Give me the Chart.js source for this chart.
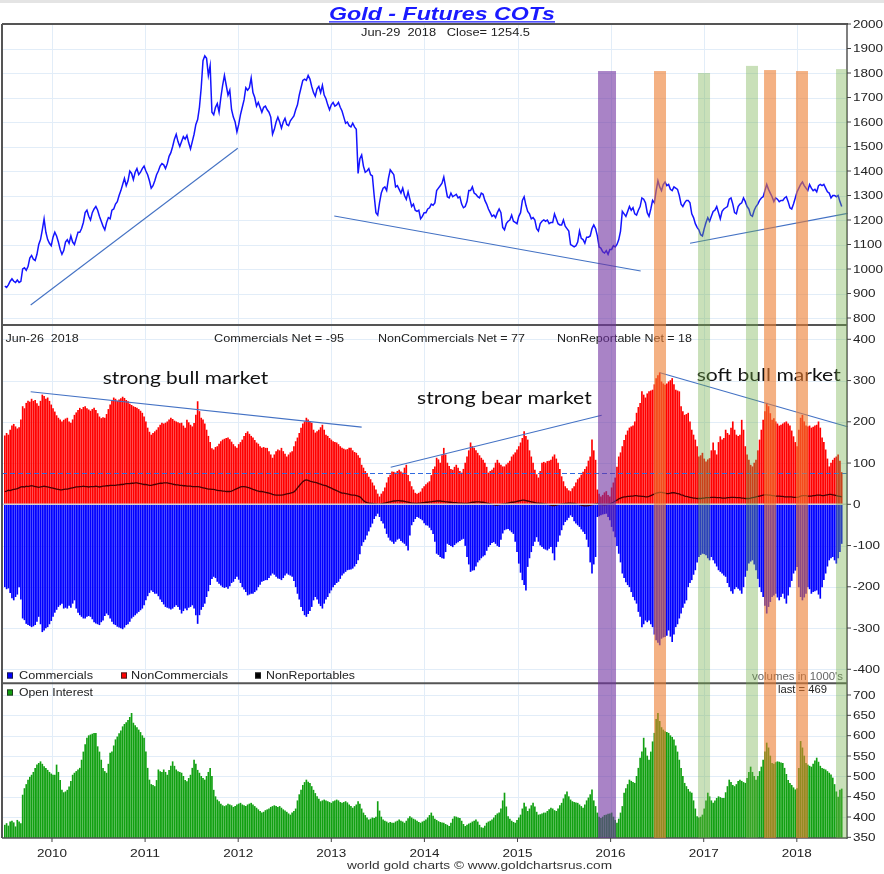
<!DOCTYPE html>
<html><head><meta charset="utf-8">
<script src="https://cdn.jsdelivr.net/npm/chart.js@4.4.1/dist/chart.umd.min.js"></script>
<style>html,body{margin:0;padding:0;background:#fff;}canvas{display:block;}</style>
</head><body>
<canvas id="c" width="884" height="874"></canvas>
<script>
// ---------- DATA (weekly, first week = 2009-06-30) ----------
const firstWeek = '2009-06-30';
const price = [
930,925,935,950,960,950,945,955,945,950,1000,1005,995,1010,1045,1055,1040,1035,1060,1100,1120,1160,1205,1150,1120,1105,1095,
1130,1150,1135,1110,1080,1060,1075,1110,1120,1105,1135,1110,1100,1125,1150,1150,1165,1190,1230,1240,
1215,1200,1230,1245,1255,1240,1215,1195,1175,1160,1190,1210,1205,1240,1245,1265,1275,1300,1320,1345,
1370,1340,1360,1400,1390,1365,1395,1410,1385,1395,1410,1420,
1400,1385,1360,1330,1340,1360,1385,1400,1420,1430,1425,1410,1430,1460,1475,1500,1530,1550,1520,1500,
1520,1540,1530,1545,1515,1490,1520,1550,1590,1610,1660,1740,1850,1870,1860,1790,1830,1640,1630,1660,
1675,1640,1700,1750,1790,1750,1710,1730,1650,1620,1600,1560,
1590,1630,1660,1690,1740,1730,1740,1780,1720,1700,1665,1680,1660,1640,1660,1665,1650,1640,1620,1550,
1570,1600,1620,1600,1575,1600,1615,1590,1585,1605,1615,1625,1650,1670,1710,1740,1770,1775,1770,1790,
1775,1745,1720,1705,1735,1745,1720,1750,1710,1695,1670,1650,
1670,1680,1665,1670,1680,1660,1645,1620,1595,1600,1585,1580,1595,1580,1570,1390,1450,1465,1420,1395,
1400,1410,1385,1380,1300,1230,1220,1270,1310,1330,1335,1320,1370,1405,1395,1385,1335,1340,1325,1310,
1330,1300,1285,1315,1285,1255,1265,1240,1235,1240,1205,1215,1230,
1230,1245,1250,1265,1260,1270,1320,1330,1340,1350,1375,1335,1295,1290,1310,1295,1300,1305,1290,1295,
1265,1250,1255,1275,1320,1320,1335,1310,1305,1295,1290,1310,1305,1280,1265,1245,1230,1215,1220,1210,
1230,1245,1230,1170,1160,1185,1195,1200,1220,1195,1190,1185,
1215,1230,1280,1295,1260,1235,1225,1205,1210,1200,1165,1155,1185,1195,1200,1195,1200,1185,1190,1190,
1225,1205,1185,1180,1180,1200,1175,1165,1155,1100,1095,1090,1095,1110,1155,1125,1120,1105,1130,1130,
1135,1165,1180,1165,1135,1090,1085,1070,1065,1075,1060,1080,
1080,1095,1090,1100,1120,1155,1235,1225,1215,1235,1255,1240,1250,1225,1220,1240,1255,1290,1285,1270,
1230,1215,1245,1280,1270,1320,1360,1335,1320,1345,1355,1340,1345,1325,1320,1335,1330,1325,1300,1265,
1255,1270,1280,1280,1270,1225,1210,1185,1170,1160,1140,1135,
1165,1190,1210,1195,1215,1235,1240,1255,1230,1205,1235,1245,1250,1255,1285,1290,1265,1230,1225,1255,
1265,1270,1290,1275,1255,1245,1220,1215,1240,1255,1265,1280,1290,1295,1320,1345,1325,1310,1295,1275,
1290,1285,1275,1280,1280,1290,1295,1275,1250,1245,1265,1290,
1315,1330,1345,1355,1340,1330,1320,1345,1330,1320,1325,1315,1340,1345,1340,1345,1330,1315,1310,1290,
1300,1300,1295,1300,1275,1255
];
const nonCommercials = [
166,172,168,180,190,194,188,183,186,205, 237,232,245,250,248,255,250,252,244,238,
250,265,262,255,258,250,241,232,224,215, 209,205,200,204,207,209,200,197,205,216,
222,228,233,230,235,237,232,229,226,230, 233,228,220,212,208,210,209,218,230,241,
250,258,255,250,253,256,260,257,252,249, 243,240,237,235,233,230,226,221,212,200,
185,175,168,172,176,180,186,192,197,195, 197,200,205,209,206,202,200,198,196,197,
190,185,204,198,192,188,196,216,249,225, 209,205,195,180,165,150,135,132,138,140,
146,152,156,158,160,161,157,151,145,140, 136,145,150,156,165,172,176,170,165,161,
155,149,146,140,136,138,136,136,128,120, 112,120,128,132,130,136,128,122,115,120,
125,128,140,152,161,172,185,195,200,209, 205,200,197,180,173,176,180,186,192,180,
168,165,160,156,152,150,149,145,140,136, 134,132,133,136,136,130,126,124,118,112,
95,88,80,75,66,60,52,45,35,25, 18,25,31,40,52,65,71,79,78,76,
80,83,79,76,88,95,70,55,43,35, 27,25,27,30,38,43,48,52,55,70,
85,91,112,108,100,118,136,120,100,92, 85,83,90,95,88,80,76,85,100,115,
130,149,140,136,130,124,118,112,107,100, 90,76,80,83,88,100,107,100,95,91,
91,96,100,105,115,120,125,132,140,149, 160,176,165,156,130,115,100,83,72,64,
80,100,102,100,104,105,107,115,120,110, 100,85,67,55,43,38,33,31,38,43,
52,60,64,71,78,85,91,105,115,156, 130,107,35,25,18,22,28,31,22,18,
40,52,64,90,115,125,140,155,168,178, 185,188,190,200,221,235,245,273,265,258,
268,273,275,277,290,305,312,319,297,292, 289,292,297,300,305,290,277,275,273,237,
225,216,218,221,200,180,168,156,140,115, 118,124,110,103,108,111,130,149,130,120,
150,164,156,160,180,172,168,185,200,180, 168,165,168,204,180,140,120,107,95,91,
100,107,130,156,180,204,225,245,237,220, 204,208,200,195,190,192,195,198,200,195,
190,178,164,150,140,180,209,216,200,190, 188,190,185,187,190,192,200,185,161,150,
132,110,91,100,107,112,115,120,105,77
];
const commercials = [
-200,-205,-203,-214,-227,-232,-224,-218,-200,-230, -276,-280,-289,-292,-294,-297,-295,-292,-284,-272,
-290,-309,-305,-300,-297,-290,-282,-272,-262,-255, -248,-244,-240,-252,-250,-252,-245,-250,-240,-232,
-252,-262,-268,-272,-276,-276,-272,-270,-272,-278, -285,-288,-290,-292,-285,-281,-270,-264,-268,-276,
-284,-290,-292,-296,-298,-300,-302,-298,-292,-290, -284,-276,-272,-268,-264,-260,-256,-252,-244,-232,
-222,-214,-208,-212,-216,-216,-222,-230,-236,-242, -248,-250,-252,-254,-252,-248,-244,-248,-255,-264,
-258,-252,-256,-250,-248,-244,-252,-268,-289,-268, -255,-248,-240,-224,-210,-195,-180,-175,-178,-187,
-192,-196,-200,-202,-200,-204,-198,-190,-187,-180, -175,-182,-190,-200,-206,-212,-220,-218,-216,-216,
-212,-208,-200,-194,-187,-185,-183,-183,-178,-172, -167,-170,-175,-179,-180,-183,-178,-172,-167,-170,
-172,-175,-185,-200,-216,-230,-248,-258,-268,-272, -265,-258,-248,-232,-224,-230,-240,-246,-252,-240,
-230,-224,-215,-208,-200,-195,-190,-187,-180,-172, -167,-163,-159,-158,-157,-155,-150,-144,-135,-120,
-100,-91,-85,-75,-65,-55,-46,-35,-28,-22, -30,-40,-46,-58,-71,-80,-87,-90,-95,-90,
-85,-83,-88,-92,-95,-100,-111,-75,-50,-42, -35,-30,-32,-35,-38,-45,-50,-51,-56,-62,
-71,-90,-119,-122,-127,-130,-131,-115,-95,-98, -100,-103,-98,-94,-91,-88,-85,-83,-100,-127,
-145,-163,-160,-159,-150,-140,-135,-130,-126,-123, -112,-103,-98,-93,-91,-95,-100,-103,-85,-70,
-62,-60,-59,-63,-67,-71,-90,-115,-143,-165, -183,-195,-208,-151,-130,-115,-100,-90,-79,-90,
-99,-103,-107,-109,-111,-107,-103,-118,-135,-103, -90,-75,-62,-50,-42,-38,-32,-26,-30,-40,
-46,-50,-54,-60,-66,-71,-85,-103,-140,-167, -145,-127,-30,-28,-26,-24,-23,-22,-30,-38,
-54,-65,-79,-100,-119,-140,-167,-178,-188,-195, -200,-212,-224,-232,-240,-260,-272,-297,-290,-281,
-285,-281,-290,-297,-315,-329,-335,-341,-325,-322, -321,-318,-305,-320,-333,-315,-297,-290,-276,-264,
-250,-240,-232,-200,-190,-183,-170,-159,-140,-127, -122,-119,-120,-123,-130,-135,-127,-135,-143,-150,
-159,-163,-167,-172,-175,-190,-200,-210,-216,-205, -200,-204,-208,-216,-200,-175,-160,-143,-138,-135,
-145,-159,-180,-200,-212,-224,-245,-264,-248,-236, -224,-220,-216,-225,-232,-224,-216,-228,-240,-220,
-200,-185,-167,-160,-151,-200,-224,-232,-225,-216, -200,-205,-216,-212,-210,-208,-218,-228,-200,-183,
-167,-150,-135,-130,-127,-135,-143,-130,-115,-95
];
const nonReportables = [
31,32,34,33,35,36,37,38,40,42, 43,42,44,43,44,45,44,43,42,41,
42,43,44,43,42,41,40,39,38,37, 36,35,35,36,37,37,38,39,40,41,
42,42,43,43,44,43,43,42,43,43, 43,44,43,42,43,44,44,45,45,46,
46,46,46,47,47,48,48,49,50,50, 50,51,51,52,52,51,50,49,48,48,
47,46,46,47,48,49,50,51,51,52, 52,52,51,50,49,48,47,47,46,46,
45,45,44,44,44,43,43,43,43,42, 41,40,39,38,37,37,36,36,35,34,
33,33,32,32,31,31,31,32,34,36, 38,40,42,43,43,42,41,40,38,36,
35,33,32,31,31,30,29,28,27,26, 24,23,22,22,22,22,23,24,25,26,
27,28,30,34,40,45,50,55,58,59, 58,56,55,54,53,52,50,49,47,46,
45,43,41,39,37,35,33,31,29,27, 27,26,25,24,23,22,22,21,20,18,
14,9,6,4,3,2,2,1,1,0, 0,1,2,3,4,5,6,7,8,8,
9,9,8,8,7,6,5,4,3,3, 2,2,3,3,4,4,5,5,6,6,
7,7,8,8,8,7,7,6,6,5, 5,4,4,4,3,3,3,2,2,2,
3,4,5,5,6,6,6,5,5,4, 3,2,1,0,-1,-2,-2,-1,0,1,
1,2,3,4,5,5,6,7,8,9, 10,10,9,8,7,6,5,4,3,3,
2,2,1,1,0,-1,-2,-3,-3,-2, -1,0,1,1,2,2,3,3,2,2,
1,0,-1,-2,-3,-4,-4,-3,-2,-1, 0,1,2,1,0,-1,-2,-1,0,1,
3,5,8,10,13,15,17,18,18,19, 19,20,20,21,21,20,20,19,19,18,
18,19,21,23,25,27,28,29,29,28, 27,26,26,27,28,28,27,26,25,23,
22,20,19,18,17,16,15,15,14,14, 14,15,15,16,16,16,17,17,17,16,
16,16,15,15,15,16,16,17,17,17, 16,16,16,15,15,14,14,14,15,16,
17,18,19,20,21,22,23,23,22,22, 21,21,20,20,20,19,19,18,18,18,
18,18,17,17,17,18,20,21,21,21, 20,20,20,21,21,22,22,22,21,21,
22,23,24,24,23,22,21,20,19,18
];
const openInterest = [
380,384,378,388,390,386,376,392,388,384, 454,470,480,491,498,503,510,520,528,532,
536,530,524,520,515,510,506,503,503,528, 510,490,466,460,462,466,474,488,503,508,
512,516,520,540,560,578,594,600,602,604, 606,606,573,560,540,520,512,508,530,557,
560,575,590,597,605,612,622,628,632,638, 645,655,631,625,620,614,608,600,594,560,
520,491,480,478,475,490,516,512,510,516, 510,503,515,525,536,525,516,512,510,508,
500,490,487,495,503,520,540,530,515,508, 500,495,491,500,510,520,500,466,450,442,
438,432,428,426,428,432,430,428,424,426, 430,432,434,430,428,426,430,432,434,430,
426,422,418,414,410,412,416,418,420,424, 426,428,426,424,426,422,418,415,412,408,
405,410,414,420,440,455,466,478,485,491, 486,483,475,466,458,450,444,438,440,442,
440,438,436,434,438,440,442,440,436,434, 436,438,435,430,426,422,426,430,438,432,
420,410,404,398,393,395,398,397,400,438, 415,400,393,390,388,385,387,385,385,388,
390,393,390,388,385,390,396,401,398,395, 393,390,387,385,388,390,393,398,404,410,
402,395,392,389,387,386,385,382,380,377, 385,395,401,400,398,397,390,382,377,380,
383,385,388,390,393,388,380,374,373,378, 385,388,390,393,398,404,408,410,420,440,
459,425,401,395,390,387,385,392,398,405, 420,434,425,414,420,428,434,425,412,405,
406,408,410,410,414,418,422,420,416,414, 420,428,434,445,455,462,450,442,438,436,
435,434,430,426,422,430,440,447,455,467, 440,426,410,400,397,400,404,405,407,408,
410,400,392,385,395,410,426,459,470,480, 491,488,485,483,500,520,545,560,594,570,
550,540,560,585,606,640,655,635,620,614, 610,608,606,600,596,590,575,560,540,520,
500,483,475,468,462,459,440,420,401,398, 400,405,420,440,459,450,440,434,440,446,
450,448,446,446,460,475,491,485,478,475, 480,488,491,488,485,483,495,510,523,510,
500,491,500,512,523,540,560,582,570,550, 532,530,534,536,535,533,532,520,505,490,
483,478,472,467,470,520,586,570,550,532, 528,525,523,530,538,545,535,525,520,518,
516,512,508,504,496,480,462,449,466,469
];
const yearTicks = [2010,2011,2012,2013,2014,2015,2016,2017,2018];
const priceTicks = [800,900,1000,1100,1200,1300,1400,1500,1600,1700,1800,1900,2000];
const cotTicks = [-400,-300,-200,-100,0,100,200,300,400];
const oiTicks = [350,400,450,500,550,600,650,700];
// highlighted periods (decimal years) and their top (price units)
const bandFrom = [2015.865,2016.466,2016.939,2017.454,2017.648,2017.991,2018.421];
const bandTo   = [2016.058,2016.595,2017.068,2017.583,2017.777,2018.120,2018.539];
const bandTop  = [1808,1808,1800,1829,1812,1808,1816];
const bandKind = ['purple','orange','green','green','orange','orange','green'];
// trend lines [x1, v1, x2, v2]
const priceTrend = [[2009.771,853,2011.995,1493],[2013.032,1216,2016.323,992],[2016.853,1105,2018.545,1227]];
const cotTrend = [[2009.771,273,2013.326,187],[2013.638,90,2015.904,216],[2016.531,319,2018.545,188]];

// ---------- helpers ----------
function decYear(t){const d=new Date(t);const y=d.getUTCFullYear();const s=Date.UTC(y,0,1),e=Date.UTC(y+1,0,1);return y+(t-s)/(e-s);}
const t0 = Date.parse(firstWeek+'T00:00:00Z');
const weekX = price.map((_,i)=>decYear(t0+i*7*86400000));
const pts = arr => arr.map((v,i)=>({x:weekX[i],y:v}));
const FONT = '"Liberation Sans", Arial, Helvetica, sans-serif';
const AFONT = 'Lato, "Open Sans", sans-serif';
const BAND_COLORS = {purple:'rgba(112,48,160,0.6)', orange:'rgba(237,125,49,0.6)', green:'rgba(112,173,71,0.38)'};
const last = nonCommercials.length-1;

function txt(ctx,s,x,y,o){
  ctx.save();
  ctx.font=`${o.style||''} ${o.weight||''} ${o.size}px ${o.family||FONT}`;
  ctx.fillStyle=o.color||'#222';
  ctx.textBaseline=o.base||'alphabetic';
  ctx.textAlign='left';
  const m=ctx.measureText(s).width;
  const sx=o.w?o.w/m:(o.sx||1);
  const W=m*sx;
  let l=x; if(o.align==='center') l=x-W/2; else if(o.align==='right') l=x-W;
  ctx.translate(l,y); ctx.scale(sx,1); ctx.fillText(s,0,0);
  ctx.restore();
  return {left:l,width:W};
}
function seg(ctx,x1,y1,x2,y2){ctx.beginPath();ctx.moveTo(x1,y1);ctx.lineTo(x2,y2);ctx.stroke();}

const overlay = {
  id:'overlay',
  beforeDraw(chart){
    const {ctx,width,height}=chart;
    ctx.save(); ctx.fillStyle='#fff'; ctx.fillRect(0,0,width,height);
    ctx.fillStyle='#e4e4e4'; ctx.fillRect(0,0,width,3); ctx.restore();
  },
  beforeDatasetsDraw(chart){
    const {ctx,chartArea:a,scales:{x,yP,yC,yO}}=chart;
    ctx.save(); ctx.strokeStyle='#e2edf8'; ctx.lineWidth=1;
    yearTicks.forEach(yr=>{const px=Math.round(x.getPixelForValue(yr))+0.5; seg(ctx,px,a.top,px,a.bottom);});
    const hl=v=>{const py=Math.round(v)+0.5; seg(ctx,a.left,py,a.right,py);};
    priceTicks.forEach(v=>hl(yP.getPixelForValue(v)));
    cotTicks.forEach(v=>{if(v!==0) hl(yC.getPixelForValue(v));});
    oiTicks.forEach(v=>hl(yO.getPixelForValue(v)));
    ctx.restore();
  },
  afterDatasetsDraw(chart){
    const {ctx,chartArea:a,scales:{x,yP,yC,yO}}=chart;
    ctx.save();
    // zero line
    ctx.strokeStyle='#d2d2d2'; ctx.lineWidth=1.5;
    const z=yC.getPixelForValue(0); seg(ctx,a.left,z,a.right,z);
    // dashed reference at last NonCommercials value
    ctx.strokeStyle='#2f6be0'; ctx.lineWidth=1.2; ctx.setLineDash([5,3]);
    const dy=Math.round(yC.getPixelForValue(nonCommercials[last]))+0.5; seg(ctx,a.left,dy,a.right,dy);
    ctx.setLineDash([]);
    // trend lines
    ctx.strokeStyle='#4472c4'; ctx.lineWidth=1.1;
    priceTrend.forEach(t=>seg(ctx,x.getPixelForValue(t[0]),yP.getPixelForValue(t[1]),x.getPixelForValue(t[2]),yP.getPixelForValue(t[3])));
    cotTrend.forEach(t=>seg(ctx,x.getPixelForValue(t[0]),yC.getPixelForValue(t[1]),x.getPixelForValue(t[2]),yC.getPixelForValue(t[3])));
    // frames
    const s1=yP.getPixelForValue(771), s2=yC.getPixelForValue(-434);
    ctx.strokeStyle='#555'; ctx.lineWidth=2;
    seg(ctx,a.left,a.top,a.right+1,a.top);
    seg(ctx,a.left,a.top,a.left,a.bottom);
    seg(ctx,a.left,s1,a.right,s1);
    seg(ctx,a.left,s2,a.right,s2);
    ctx.lineWidth=1.5;
    seg(ctx,a.right,a.top,a.right,a.bottom+1);
    seg(ctx,a.left,a.bottom,a.right,a.bottom);
    // ticks + labels
    ctx.font=`11px ${FONT}`;
    const tsx=30/ctx.measureText('2000').width;
    const tick=(v,sc)=>{const py=sc.getPixelForValue(v); ctx.strokeStyle='#444'; ctx.lineWidth=1; seg(ctx,a.right,py,a.right+4,py);
      txt(ctx,String(v),a.right+6,py+0.5,{size:11,sx:tsx,base:'middle',color:'#222'});};
    priceTicks.forEach(v=>tick(v,yP));
    cotTicks.forEach(v=>tick(v,yC));
    oiTicks.forEach(v=>tick(v,yO));
    yearTicks.forEach(yr=>{const px=x.getPixelForValue(yr); ctx.strokeStyle='#444'; seg(ctx,px,a.bottom,px,a.bottom+4);
      txt(ctx,String(yr),px,857,{size:11.5,w:30,align:'center',color:'#222'});});
    // header texts
    const t=txt(ctx,'Gold - Futures COTs',442,20,{size:19,weight:'bold',style:'italic',w:226,align:'center',color:'#1a1aff'});
    ctx.strokeStyle='#1a1aff'; ctx.lineWidth=1.2; seg(ctx,t.left,21.8,t.left+t.width,21.8);
    txt(ctx,'Jun-29  2018   Close= 1254.5',445.5,36,{size:10.5,w:169,align:'center'});
    txt(ctx,'Jun-26  2018',5.6,342,{size:11,w:73});
    txt(ctx,`Commercials Net = ${commercials[last]}`,214,342,{size:11,w:130});
    txt(ctx,`NonCommercials Net = ${nonCommercials[last]}`,378,342,{size:11,w:147});
    txt(ctx,`NonReportable Net = ${nonReportables[last]}`,557,342,{size:11,w:135});
    // legends
    const sq=(px,py,c)=>{ctx.fillStyle=c; ctx.fillRect(px,py,6,6); ctx.strokeStyle='#222'; ctx.lineWidth=0.8; ctx.strokeRect(px+0.4,py+0.4,5.2,5.2);};
    sq(7,672.5,'#0000ff'); txt(ctx,'Commercials',19,678.5,{size:11,w:74});
    sq(121,672.5,'#ff0000'); txt(ctx,'NonCommercials',131,678.5,{size:11,w:97});
    sq(255,672.5,'#000000'); txt(ctx,'NonReportables',266,678.5,{size:11,w:89});
    txt(ctx,"volumes in 1000's",752,680,{size:10,w:91,color:'#666'});
    sq(7,689.5,'#11a011'); txt(ctx,'Open Interest',19,695.5,{size:11,w:74});
    txt(ctx,`last = ${openInterest[last]}`,778,693,{size:10,w:49});
    txt(ctx,'world gold charts \u00a9 www.goldchartsrus.com',479.5,869,{size:11.5,w:265,align:'center',color:'#333'});
    // annotations
    txt(ctx,'strong bull market',102.7,384,{size:18,family:AFONT,w:165.6,color:'#111'});
    txt(ctx,'strong bear market',417,404,{size:18,family:AFONT,w:174.7,color:'#111'});
    txt(ctx,'soft bull market',696.7,381,{size:18,family:AFONT,w:144,color:'#111'});
    // highlight bands (on top)
    bandFrom.forEach((f,i)=>{const x1=x.getPixelForValue(f), x2=x.getPixelForValue(bandTo[i]);
      const top=yP.getPixelForValue(bandTop[i]); ctx.fillStyle=BAND_COLORS[bandKind[i]];
      ctx.fillRect(x1,top,x2-x1,a.bottom-top);});
    ctx.restore();
  }
};

new Chart(document.getElementById('c'),{
  type:'bar',
  data:{datasets:[
    {type:'line',label:'Gold',data:pts(price),yAxisID:'yP',borderColor:'#1414ff',borderWidth:1.5,pointRadius:0,tension:0,order:1},
    {type:'line',label:'NonReportables',data:pts(nonReportables),yAxisID:'yC',borderColor:'#4a0000',borderWidth:1.3,pointRadius:0,tension:0,order:2},
    {label:'NonCommercials',data:pts(nonCommercials),yAxisID:'yC',backgroundColor:'#ff0000',barThickness:1,grouped:false,order:3},
    {label:'Commercials',data:pts(commercials),yAxisID:'yC',backgroundColor:'#0000ff',barThickness:1,grouped:false,order:4},
    {label:'Open Interest',data:pts(openInterest),yAxisID:'yO',backgroundColor:'#11a011',barThickness:1,grouped:false,order:5}
  ]},
  options:{
    responsive:false,animation:false,devicePixelRatio:1,
    layout:{padding:{left:2,top:24,right:37,bottom:36}},
    plugins:{legend:{display:false},tooltip:{enabled:false}},
    scales:{
      x:{type:'linear',min:2009.463,max:2018.539,offset:false,display:false},
      yP:{type:'linear',position:'right',min:-1322.4,max:2000,display:false},
      yC:{type:'linear',position:'right',min:-809,max:1164.4,display:false},
      yO:{type:'linear',position:'right',min:348.4,max:2349.8,display:false}
    }
  },
  plugins:[overlay]
});
</script>
</body></html>
